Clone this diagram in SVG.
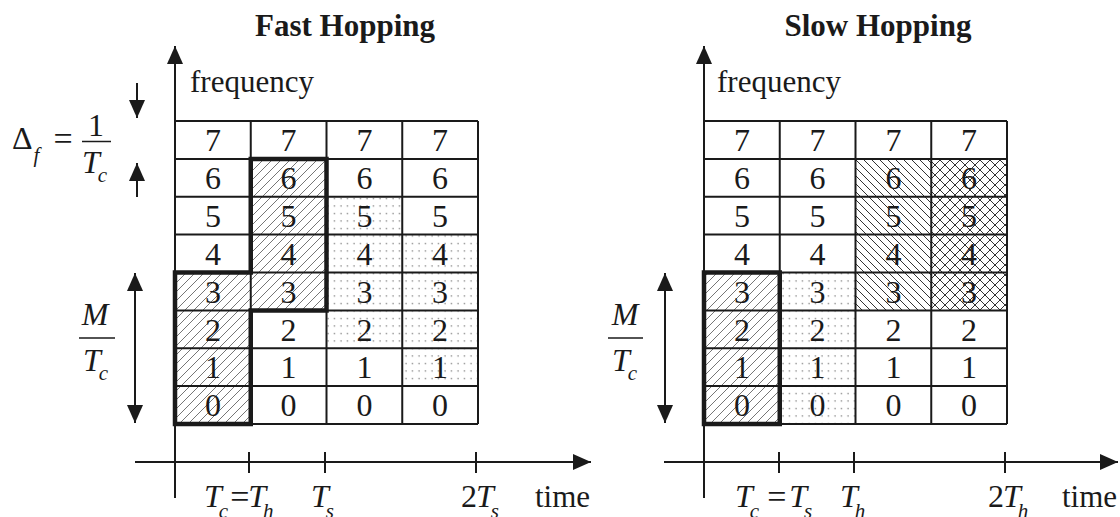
<svg xmlns="http://www.w3.org/2000/svg" width="1120" height="517" viewBox="0 0 1120 517">
<style>
text{font-family:"Liberation Serif","Times New Roman",serif;fill:#1a1a1a}
.d{font-size:32px;text-anchor:middle}
.t{font-size:31px;font-weight:bold;text-anchor:middle}
.l{font-size:31px}
.m{font-size:32px;font-style:italic}
.s{font-size:21px;font-style:italic}
.u{font-size:32px;font-style:normal}
.e{font-size:34px;font-style:normal}
.g{stroke:#1a1a1a;stroke-width:2;fill:none}
.k{stroke:#1a1a1a;stroke-width:4.5;fill:none;stroke-linejoin:miter}
.ax{stroke:#1a1a1a;stroke-width:2;fill:none}
.bar{stroke:#1a1a1a;stroke-width:1.5}
</style>
<defs>
<marker id="ah" viewBox="0 0 18 16" refX="18" refY="8" markerWidth="18" markerHeight="16" markerUnits="userSpaceOnUse" orient="auto-start-reverse"><path d="M0,0 L18,8 L0,16 z" fill="#1a1a1a"/></marker>
<pattern id="hf" patternUnits="userSpaceOnUse" width="9" height="9"><path d="M-1,1 L1,-1 M0,9 L9,0 M8,10 L10,8" stroke="#666" stroke-width="0.9"/></pattern>
<pattern id="hb" patternUnits="userSpaceOnUse" width="8" height="8"><path d="M-1,7 L1,9 M0,0 L8,8 M7,-1 L9,1" stroke="#333" stroke-width="1"/></pattern>
<pattern id="hx" patternUnits="userSpaceOnUse" width="10" height="10"><path d="M-1,1 L1,-1 M0,10 L10,0 M9,11 L11,9 M-1,9 L1,11 M0,0 L10,10 M9,-1 L11,1" stroke="#333" stroke-width="1"/></pattern>
<pattern id="dt" patternUnits="userSpaceOnUse" width="6.5" height="7.5"><circle cx="3" cy="3.5" r="0.65" fill="#555"/></pattern>
</defs>
<rect width="1120" height="517" fill="#fff"/>

<g id="title-fast"><text class="t" x="345" y="36">Fast Hopping</text></g>
<g id="title-slow"><text class="t" x="878" y="36">Slow Hopping</text></g>

<g id="connectors">
<line class="ax" x1="175" y1="498" x2="175" y2="46" marker-end="url(#ah)"/>
<line class="ax" x1="135" y1="462" x2="591" y2="462" marker-end="url(#ah)"/>
<line class="ax" x1="249" y1="452" x2="249" y2="473"/>
<line class="ax" x1="325" y1="452" x2="325" y2="473"/>
<line class="ax" x1="476" y1="452" x2="476" y2="473"/>
<line class="ax" x1="137" y1="83" x2="137" y2="118" marker-end="url(#ah)"/>
<line class="ax" x1="137" y1="197" x2="137" y2="163" marker-end="url(#ah)"/>
<line class="ax" x1="135" y1="273" x2="135" y2="423" marker-start="url(#ah)" marker-end="url(#ah)"/>
<line class="ax" x1="704" y1="498" x2="704" y2="46" marker-end="url(#ah)"/>
<line class="ax" x1="664" y1="462" x2="1118" y2="462" marker-end="url(#ah)"/>
<line class="ax" x1="779" y1="452" x2="779" y2="473"/>
<line class="ax" x1="854" y1="452" x2="854" y2="473"/>
<line class="ax" x1="1005" y1="452" x2="1005" y2="473"/>
<line class="ax" x1="665" y1="273" x2="665" y2="423" marker-start="url(#ah)" marker-end="url(#ah)"/>
</g>

<g id="grid-fast">
<rect x="175" y="121" width="303" height="303" fill="#fff"/>
<rect x="175" y="272.5" width="75.75" height="151.5" fill="url(#hf)"/>
<rect x="250.75" y="158.9" width="75.75" height="151.5" fill="url(#hf)"/>
<rect x="326.5" y="196.75" width="75.75" height="151.5" fill="url(#dt)"/>
<rect x="402.25" y="234.6" width="75.75" height="151.5" fill="url(#dt)"/>
<text class="d" x="212.9" y="151">7</text><text class="d" x="288.6" y="151">7</text><text class="d" x="364.4" y="151">7</text><text class="d" x="440.1" y="151">7</text>
<text class="d" x="212.9" y="189">6</text><text class="d" x="288.6" y="189">6</text><text class="d" x="364.4" y="189">6</text><text class="d" x="440.1" y="189">6</text>
<text class="d" x="212.9" y="227">5</text><text class="d" x="288.6" y="227">5</text><text class="d" x="364.4" y="227">5</text><text class="d" x="440.1" y="227">5</text>
<text class="d" x="212.9" y="265">4</text><text class="d" x="288.6" y="265">4</text><text class="d" x="364.4" y="265">4</text><text class="d" x="440.1" y="265">4</text>
<text class="d" x="212.9" y="303">3</text><text class="d" x="288.6" y="303">3</text><text class="d" x="364.4" y="303">3</text><text class="d" x="440.1" y="303">3</text>
<text class="d" x="212.9" y="340.5">2</text><text class="d" x="288.6" y="340.5">2</text><text class="d" x="364.4" y="340.5">2</text><text class="d" x="440.1" y="340.5">2</text>
<text class="d" x="212.9" y="378">1</text><text class="d" x="288.6" y="378">1</text><text class="d" x="364.4" y="378">1</text><text class="d" x="440.1" y="378">1</text>
<text class="d" x="212.9" y="416">0</text><text class="d" x="288.6" y="416">0</text><text class="d" x="364.4" y="416">0</text><text class="d" x="440.1" y="416">0</text>
<path class="g" d="M175,121 H478 M175,158.9 H478 M175,196.75 H478 M175,234.6 H478 M175,272.5 H478 M175,310.4 H478 M175,348.25 H478 M175,386.1 H478 M175,424 H478 M175,121 V424 M250.75,121 V424 M326.5,121 V424 M402.25,121 V424 M478,121 V424"/>
<path class="k" d="M175,272.5 H250.75 V158.9 H326.5 V310.4 H250.75 V424 H175 Z"/>
</g>

<g id="grid-slow">
<rect x="704" y="121" width="303" height="303" fill="#fff"/>
<rect x="704" y="272.5" width="75.75" height="151.5" fill="url(#hf)"/>
<rect x="779.75" y="272.5" width="75.75" height="151.5" fill="url(#dt)"/>
<rect x="855.5" y="158.9" width="75.75" height="151.5" fill="url(#hb)"/>
<rect x="931.25" y="158.9" width="75.75" height="151.5" fill="url(#hx)"/>
<text class="d" x="741.9" y="151">7</text><text class="d" x="817.6" y="151">7</text><text class="d" x="893.4" y="151">7</text><text class="d" x="969.1" y="151">7</text>
<text class="d" x="741.9" y="189">6</text><text class="d" x="817.6" y="189">6</text><text class="d" x="893.4" y="189">6</text><text class="d" x="969.1" y="189">6</text>
<text class="d" x="741.9" y="227">5</text><text class="d" x="817.6" y="227">5</text><text class="d" x="893.4" y="227">5</text><text class="d" x="969.1" y="227">5</text>
<text class="d" x="741.9" y="265">4</text><text class="d" x="817.6" y="265">4</text><text class="d" x="893.4" y="265">4</text><text class="d" x="969.1" y="265">4</text>
<text class="d" x="741.9" y="303">3</text><text class="d" x="817.6" y="303">3</text><text class="d" x="893.4" y="303">3</text><text class="d" x="969.1" y="303">3</text>
<text class="d" x="741.9" y="340.5">2</text><text class="d" x="817.6" y="340.5">2</text><text class="d" x="893.4" y="340.5">2</text><text class="d" x="969.1" y="340.5">2</text>
<text class="d" x="741.9" y="378">1</text><text class="d" x="817.6" y="378">1</text><text class="d" x="893.4" y="378">1</text><text class="d" x="969.1" y="378">1</text>
<text class="d" x="741.9" y="416">0</text><text class="d" x="817.6" y="416">0</text><text class="d" x="893.4" y="416">0</text><text class="d" x="969.1" y="416">0</text>
<path class="g" d="M704,121 H1007 M704,158.9 H1007 M704,196.75 H1007 M704,234.6 H1007 M704,272.5 H1007 M704,310.4 H1007 M704,348.25 H1007 M704,386.1 H1007 M704,424 H1007 M704,121 V424 M779.75,121 V424 M855.5,121 V424 M931.25,121 V424 M1007,121 V424"/>
<rect class="k" x="704" y="272.5" width="75.75" height="151.5"/>
</g>

<g id="labels-fast">
<text class="l" x="190" y="92">frequency</text>
<text x="12" y="149"><tspan class="u">Δ</tspan><tspan class="s" dx="1" dy="13">f</tspan><tspan class="e" dx="14" dy="-12">=</tspan></text>
<text class="u" x="96" y="136" text-anchor="middle">1</text>
<line class="bar" x1="82" y1="141.5" x2="111" y2="141.5"/>
<text x="82" y="173"><tspan class="m">T</tspan><tspan class="s" dx="-2" dy="9">c</tspan></text>
<text class="m" x="95" y="325" text-anchor="middle">M</text>
<line class="bar" x1="79" y1="338" x2="115" y2="338"/>
<text x="83" y="371"><tspan class="m">T</tspan><tspan class="s" dx="-2" dy="9">c</tspan></text>
<text x="204" y="507"><tspan class="m">T</tspan><tspan class="s" dx="-3" dy="11">c</tspan><tspan class="e" dx="2" dy="-10">=</tspan><tspan class="m" dx="-1" dy="-1">T</tspan><tspan class="s" dx="-3" dy="11">h</tspan></text>
<text x="311" y="507"><tspan class="m">T</tspan><tspan class="s" dx="-3" dy="11">s</tspan></text>
<text x="461" y="507"><tspan class="u">2</tspan><tspan class="m" dx="-1">T</tspan><tspan class="s" dx="-3" dy="11">s</tspan></text>
<text class="l" x="535" y="507">time</text>
</g>

<g id="labels-slow">
<text class="l" x="717" y="92">frequency</text>
<text class="m" x="625" y="325" text-anchor="middle">M</text>
<line class="bar" x1="608" y1="338" x2="643" y2="338"/>
<text x="612" y="371"><tspan class="m">T</tspan><tspan class="s" dx="-2" dy="9">c</tspan></text>
<text x="735" y="507"><tspan class="m">T</tspan><tspan class="s" dx="-3" dy="11">c</tspan><tspan class="e" dx="8" dy="-10">=</tspan><tspan class="m" dx="3" dy="-1">T</tspan><tspan class="s" dx="-3" dy="11">s</tspan></text>
<text x="840" y="507"><tspan class="m">T</tspan><tspan class="s" dx="-3" dy="11">h</tspan></text>
<text x="988" y="507"><tspan class="u">2</tspan><tspan class="m" dx="-1">T</tspan><tspan class="s" dx="-3" dy="11">h</tspan></text>
<text class="l" x="1062" y="507">time</text>
</g>
</svg>
